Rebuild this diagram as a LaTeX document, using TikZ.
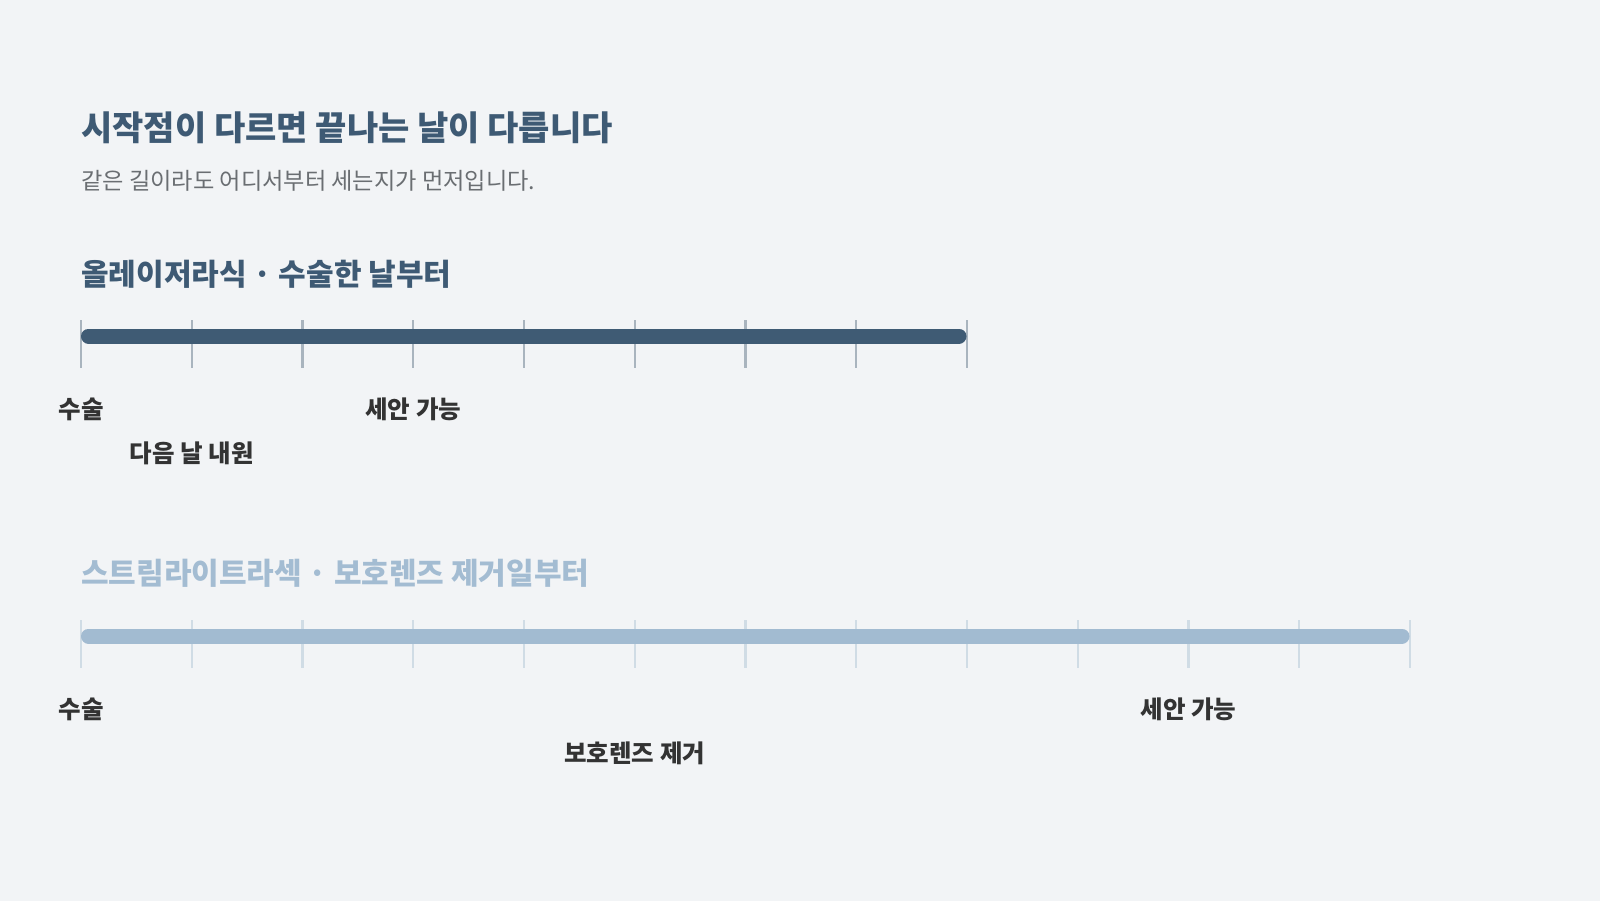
\documentclass[tikz,border=0pt]{standalone}
\usepackage{fontspec}
\setmainfont{Noto Sans CJK KR}
\definecolor{bg}{HTML}{F2F4F6}
\definecolor{titlec}{HTML}{3E5A74}
\definecolor{subc}{HTML}{6A6E72}
\definecolor{barone}{HTML}{3F5B74}
\definecolor{tickone}{HTML}{A9B4BE}
\definecolor{headtwo}{HTML}{A3BCD2}
\definecolor{bartwo}{HTML}{A2BBD1}
\definecolor{ticktwo}{HTML}{D0DCE5}
\definecolor{labc}{HTML}{333333}
\begin{document}
\begin{tikzpicture}[x=1pt,y=-1pt,
  titlestyle/.style={anchor=base west,inner sep=0pt,text=titlec,font=\fontsize{34}{40}\selectfont\bfseries},
  substyle/.style={anchor=base west,inner sep=0pt,text=subc,font=\fontsize{23.2}{28}\selectfont},
  headstyle/.style={anchor=base west,inner sep=0pt,font=\fontsize{30}{36}\selectfont\bfseries},
  labstyle/.style={anchor=base,inner sep=0pt,text=labc,font=\fontsize{24.5}{29}\selectfont\bfseries},
  tickstyle/.style={line width=2.4pt},
  barstyle/.style={line width=15pt,line cap=round}]
\fill[bg] (0,0) rectangle (1600,901);
\useasboundingbox (0,0) rectangle (1600,901);
\node[titlestyle] (title) at (81,141) {시작점이 다르면 끝나는 날이 다릅니다};
\node[substyle] (sub) at (81,190) {같은 길이라도 어디서부터 세는지가 먼저입니다.};
% section 1
\node[headstyle,text=titlec] (h1) at (81,285.5) {올레이저라식 · 수술한 날부터};
\foreach \i in {0,...,8} {
  \draw[tickstyle,tickone] (81+110.75*\i,320) -- (81+110.75*\i,368);
}
\coordinate (b1s) at (88.5,336);
\coordinate (b1e) at (959,336);
\draw[barstyle,barone] (b1s) -- (b1e);
\node[labstyle] (l1a) at (81,418) {수술};
\node[labstyle] (l1b) at (191.75,462) {다음 날 내원};
\node[labstyle] (l1c) at (413.25,418) {세안 가능};
% section 2
\node[headstyle,text=headtwo] (h2) at (81,584.5) {스트림라이트라섹 · 보호렌즈 제거일부터};
\foreach \i in {0,...,12} {
  \draw[tickstyle,ticktwo] (81+110.75*\i,620) -- (81+110.75*\i,668);
}
\coordinate (b2s) at (88.5,636);
\coordinate (b2e) at (1402,636);
\draw[barstyle,bartwo] (b2s) -- (b2e);
\node[labstyle] (l2a) at (81,718) {수술};
\node[labstyle] (l2b) at (634.75,762) {보호렌즈 제거};
\node[labstyle] (l2c) at (1188.5,718) {세안 가능};
\end{tikzpicture}
\end{document}
